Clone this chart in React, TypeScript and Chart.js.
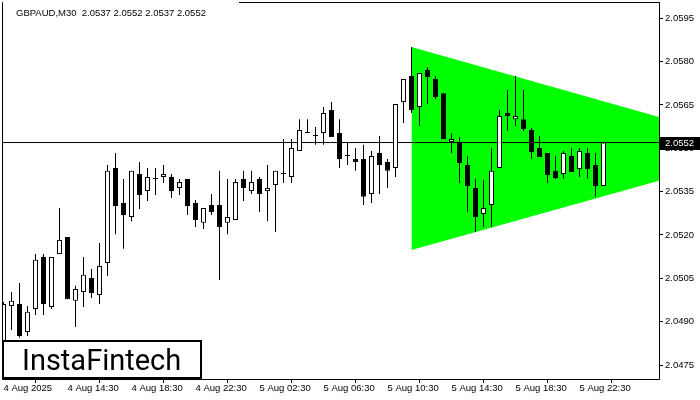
import React, { useEffect, useRef } from "react";
import { Chart, registerables } from "chart.js";

Chart.register(...registerables);

const symbolTitle = "GBPAUD,M30  2.0537 2.0552 2.0537 2.0552";
const logoText = "InstaFintech";
const currentPrice = 2.0552;

const opens = [
  2.04802, 2.04954, 2.04961, 2.04864, 2.04944, 2.05124, 2.04951, 2.05134, 2.05193, 2.04972,
  2.05003, 2.05051, 2.04992, 2.05103, 2.05432, 2.05311, 2.05262, 2.05411, 2.05352, 2.05394,
  2.05401, 2.05401, 2.05363, 2.05394, 2.05311, 2.05242, 2.05304, 2.05304, 2.05242, 2.05252,
  2.05394, 2.05352, 2.05394, 2.05352, 2.05373, 2.05411, 2.05401, 2.05491, 2.05553, 2.05543,
  2.05553, 2.05633, 2.05553, 2.05473, 2.05463, 2.05463, 2.05342, 2.05484, 2.05453, 2.05432,
  2.0566, 2.0575, 2.05643, 2.05771, 2.0574, 2.05691, 2.05522, 2.05522, 2.05442, 2.05363,
  2.05273, 2.05304, 2.05432, 2.05622, 2.05601, 2.05601, 2.05563, 2.05501, 2.05484, 2.05422,
  2.05411, 2.05473, 2.05428, 2.05484, 2.05442, 2.0537,
];
const highs = [
  2.04968, 2.05003, 2.05034, 2.04954, 2.05134, 2.05134, 2.05124, 2.05293, 2.05193, 2.05024,
  2.05124, 2.05082, 2.05172, 2.05442, 2.05484, 2.05394, 2.05422, 2.05453, 2.05432, 2.05432,
  2.05442, 2.05411, 2.05394, 2.05394, 2.05321, 2.05293, 2.05342, 2.05422, 2.05394, 2.05394,
  2.05422, 2.05422, 2.05401, 2.05442, 2.05422, 2.05532, 2.05532, 2.05601, 2.05601, 2.05574,
  2.05643, 2.0566, 2.05601, 2.05518, 2.05501, 2.05512, 2.05491, 2.05543, 2.05463, 2.05653,
  2.0574, 2.05851, 2.05761, 2.05781, 2.0575, 2.05691, 2.05553, 2.05539, 2.05473, 2.05394,
  2.0539, 2.05501, 2.05633, 2.05702, 2.0575, 2.05702, 2.0557, 2.05543, 2.05484, 2.05473,
  2.05491, 2.05501, 2.05501, 2.05501, 2.05484, 2.0552,
];
const lows = [
  2.04767, 2.04871, 2.04844, 2.0485, 2.04923, 2.04923, 2.04944, 2.05134, 2.04978, 2.04882,
  2.04951, 2.04982, 2.04961, 2.05058, 2.05203, 2.05152, 2.05248, 2.0529, 2.05318, 2.05338,
  2.0538, 2.05328, 2.05338, 2.05269, 2.05228, 2.05221, 2.05269, 2.05044, 2.05203, 2.05252,
  2.05318, 2.05342, 2.0528, 2.05248, 2.0521, 2.0538, 2.0538, 2.05491, 2.05553, 2.05512,
  2.05512, 2.05539, 2.05432, 2.05442, 2.05422, 2.05304, 2.05311, 2.05342, 2.05363, 2.05401,
  2.05588, 2.05622, 2.05577, 2.05653, 2.05671, 2.05532, 2.05484, 2.0538, 2.0528, 2.0521,
  2.05228, 2.05228, 2.05432, 2.0556, 2.05577, 2.0556, 2.05463, 2.0547, 2.0538, 2.05394,
  2.05394, 2.05418, 2.05401, 2.05394, 2.05332, 2.0537,
];
const closes = [
  2.04961, 2.04972, 2.0485, 2.04934, 2.05114, 2.04961, 2.05124, 2.05183, 2.04978, 2.05013,
  2.05062, 2.04999, 2.05093, 2.05422, 2.053, 2.05269, 2.05422, 2.05338, 2.05401, 2.05394,
  2.05411, 2.05352, 2.05383, 2.053, 2.05252, 2.05293, 2.0528, 2.05228, 2.05262, 2.05383,
  2.05363, 2.05383, 2.05342, 2.05363, 2.05422, 2.05411, 2.05501, 2.05563, 2.05553, 2.05543,
  2.05622, 2.05539, 2.05463, 2.05473, 2.05453, 2.05332, 2.05473, 2.05442, 2.05422, 2.05653,
  2.0574, 2.05633, 2.05761, 2.05747, 2.05678, 2.05532, 2.05532, 2.05449, 2.0537, 2.05262,
  2.05293, 2.05422, 2.05612, 2.05612, 2.05612, 2.05567, 2.05487, 2.0547, 2.05408, 2.05397,
  2.05484, 2.05418, 2.05491, 2.05428, 2.0537, 2.0552,
];

const xTickIndex = [0, 8, 16, 24, 32, 40, 48, 56, 64, 72];
const xTickLabels = [
  "4 Aug 2025", "4 Aug 14:30", "4 Aug 18:30", "4 Aug 22:30", "5 Aug 02:30",
  "5 Aug 06:30", "5 Aug 10:30", "5 Aug 14:30", "5 Aug 18:30", "5 Aug 22:30",
];
const yTicks = [2.0475, 2.049, 2.0505, 2.052, 2.0535, 2.055, 2.0565, 2.058, 2.0595];

const triangleTopX = [51, 82];
const triangleTopY = [2.05851, 2.05608];
const triangleBottomX = [51, 82];
const triangleBottomY = [2.05148, 2.05388];

const AXIS_FONT = { family: "'Liberation Sans', Arial, sans-serif", size: 9.5 };

const overlayPlugin = {
  id: "mtOverlay",
  afterDraw(chart: any) {
    const { ctx, chartArea: a, scales } = chart;
    ctx.save();
    // frame
    ctx.strokeStyle = "#000";
    ctx.lineWidth = 1;
    ctx.beginPath();
    ctx.moveTo(a.left + 0.5, a.top + 0.5);
    ctx.lineTo(a.right + 0.5, a.top + 0.5);
    ctx.lineTo(a.right + 0.5, a.bottom + 0.5);
    ctx.lineTo(a.left + 0.5, a.bottom + 0.5);
    ctx.closePath();
    ctx.stroke();
    // title label
    ctx.fillStyle = "#fff";
    ctx.fillRect(a.left + 1, 0, 236, 20);
    ctx.fillStyle = "#000";
    ctx.font = "9.5px 'Liberation Sans', Arial, sans-serif";
    ctx.textBaseline = "alphabetic";
    ctx.textAlign = "left";
    ctx.fillText(symbolTitle, 16, 16);
    // logo box
    ctx.fillStyle = "#fff";
    ctx.fillRect(2, 340, 200, 39);
    ctx.lineWidth = 2;
    ctx.strokeStyle = "#000";
    ctx.strokeRect(3, 341, 198, 37);
    ctx.fillStyle = "#000";
    ctx.font = "29px Roboto, 'Liberation Sans', sans-serif";
    ctx.fillText(logoText, 22, 370);
    // current price box
    const py = scales.y.getPixelForValue(currentPrice);
    ctx.fillStyle = "#000";
    ctx.fillRect(a.right + 1, Math.round(py) - 6, 700 - a.right - 1, 13);
    ctx.fillStyle = "#fff";
    ctx.font = "9.5px 'Liberation Sans', Arial, sans-serif";
    ctx.textBaseline = "middle";
    ctx.fillText(currentPrice.toFixed(4), a.right + 6, Math.round(py) + 0.5);
    ctx.restore();
  },
};

export default function App() {
  const ref = useRef<HTMLCanvasElement>(null);

  useEffect(() => {
    document.body.style.margin = "0";
    const canvas = ref.current;
    if (!canvas) return;

    const wickData = lows.map((l, i) => ({ x: i, y: [l, highs[i]] }));
    const bodyData = opens.map((o, i) => ({ x: i, y: [o, closes[i]] }));
    const bodyColors = opens.map((o, i) => (closes[i] >= o ? "#ffffff" : "#000000"));
    const topLine = triangleTopX.map((x, i) => ({ x, y: triangleTopY[i] }));
    const bottomLine = triangleBottomX.map((x, i) => ({ x, y: triangleBottomY[i] }));
    const priceLine = [
      { x: -5, y: currentPrice },
      { x: 90, y: currentPrice },
    ];

    const chart = new Chart(canvas, {
      type: "bar",
      data: {
        datasets: [
          {
            type: "line",
            data: topLine,
            borderColor: "rgba(0,0,0,0)",
            borderWidth: 0,
            pointRadius: 0,
            fill: false,
            order: 10,
          } as any,
          {
            type: "line",
            data: bottomLine,
            borderColor: "rgba(0,0,0,0)",
            borderWidth: 0,
            pointRadius: 0,
            backgroundColor: "#00ff00",
            fill: "-1",
            order: 9,
          } as any,
          {
            type: "line",
            data: priceLine,
            borderColor: "#000",
            borderWidth: 1,
            pointRadius: 0,
            fill: false,
            order: 8,
          } as any,
          {
            type: "bar",
            data: wickData,
            backgroundColor: "#000",
            borderWidth: 0,
            barThickness: 1,
            grouped: false,
            inflateAmount: 0,
            order: 2,
          } as any,
          {
            type: "bar",
            data: bodyData,
            backgroundColor: bodyColors,
            borderColor: "#000",
            borderWidth: 1,
            borderSkipped: false,
            barThickness: 5,
            minBarLength: 1,
            grouped: false,
            inflateAmount: 0,
            order: 1,
          } as any,
        ],
      },
      options: {
        responsive: false,
        animation: false,
        events: [],
        layout: { padding: { left: 2, top: 2, right: 0, bottom: 0 } },
        plugins: {
          legend: { display: false },
          tooltip: { enabled: false },
          title: { display: false },
        },
        scales: {
          x: {
            type: "linear",
            min: -0.1875,
            max: 81.9375,
            offset: false,
            afterBuildTicks: (s: any) => {
              s.ticks = xTickIndex.map((v) => ({ value: v }));
            },
            afterFit: (s: any) => {
              s.height = 21;
              s.paddingLeft = 0;
              s.paddingRight = 0;
              s.paddingTop = 0;
              s.paddingBottom = 0;
            },
            grid: {
              display: true,
              drawOnChartArea: false,
              drawTicks: true,
              tickLength: 4,
              color: "#000",
              lineWidth: 1,
            },
            border: { display: false },
            ticks: {
              autoSkip: false,
              maxRotation: 0,
              minRotation: 0,
              align: "start",
              padding: 0,
              color: "#000",
              font: AXIS_FONT,
              callback: (_v: any, i: number) => xTickLabels[i],
            },
          },
          y: {
            type: "linear",
            position: "right",
            min: 2.047016,
            max: 2.060064,
            afterBuildTicks: (s: any) => {
              s.ticks = yTicks.map((v) => ({ value: v }));
            },
            afterFit: (s: any) => {
              s.width = 41;
              s.paddingLeft = 0;
              s.paddingRight = 0;
              s.paddingTop = 0;
              s.paddingBottom = 0;
            },
            grid: {
              display: true,
              drawOnChartArea: false,
              drawTicks: true,
              tickLength: 4,
              color: "#000",
              lineWidth: 1,
            },
            border: { display: false },
            ticks: {
              padding: 2,
              color: "#000",
              font: AXIS_FONT,
              callback: (v: any) => Number(v).toFixed(4),
            },
          },
        },
      } as any,
      plugins: [overlayPlugin],
    });

    return () => chart.destroy();
  }, []);

  return (
    <div style={{ width: 700, height: 400, background: "#fff" }}>
      <canvas ref={ref} width={700} height={400} style={{ display: "block" }} />
    </div>
  );
}
